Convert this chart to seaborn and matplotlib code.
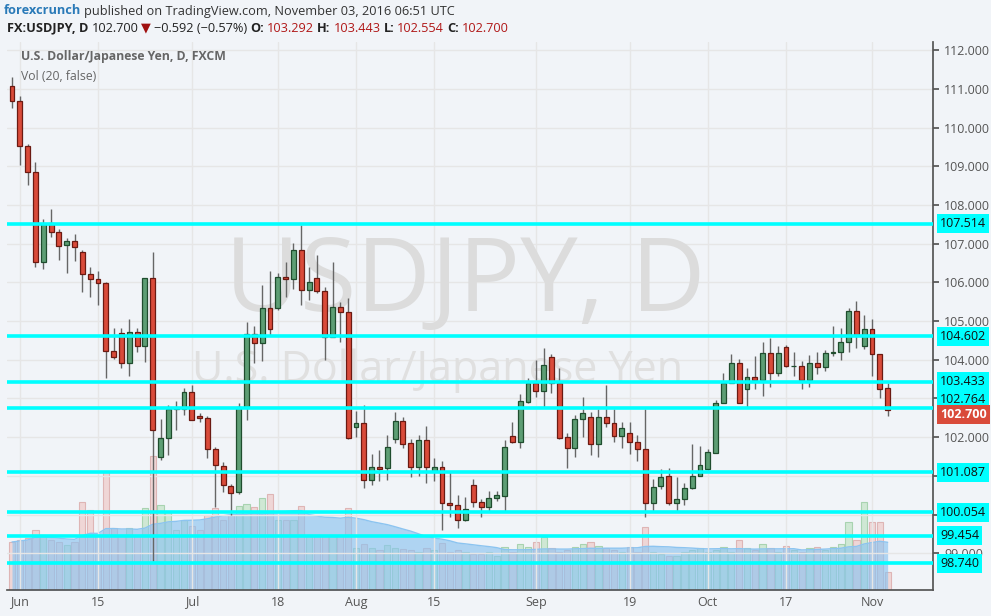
import numpy as np
import pandas as pd
import matplotlib
matplotlib.use("Agg")
import matplotlib.pyplot as plt
import seaborn as sns

opens = [111.07,110.68,109.52,108.85,106.52,107.53,107.30,106.96,107.07,106.78,106.21,106.08,105.98,104.22,104.69,103.91,104.71,104.35,106.10,101.48,
         101.97,102.72,102.72,103.16,102.54,102.50,101.69,101.25,100.74,100.58,102.78,104.66,104.43,105.33,105.33,106.13,106.08,106.83,105.80,106.10,
         105.77,104.58,105.36,105.23,102.26,102.36,100.89,101.23,101.20,101.95,102.41,101.84,101.23,101.92,101.12,101.23,100.29,100.24,99.86,100.76,
         100.32,100.19,100.42,100.48,102.03,101.87,102.90,103.39,103.19,104.07,103.39,102.00,101.72,102.47,102.52,101.82,102.52,102.36,102.03,102.10,
         101.87,101.69,100.29,100.73,100.99,100.29,100.39,100.68,100.99,101.17,101.59,102.88,103.39,103.91,103.24,103.55,103.47,104.17,103.65,104.33,
         103.83,103.83,103.47,103.91,103.81,104.17,104.20,104.46,105.26,104.35,104.79,104.14,103.27]
closes = [110.68,109.52,108.85,106.52,107.52,107.30,106.94,107.07,106.91,106.21,106.08,105.98,104.22,104.07,103.91,104.71,104.35,106.10,102.18,101.97,
          102.72,102.72,103.16,102.44,102.50,101.69,101.28,100.76,100.55,102.78,104.66,104.43,105.33,104.79,106.13,106.08,106.83,105.80,106.00,105.77,
          104.58,105.36,105.23,101.97,102.36,100.89,101.23,101.17,101.74,102.41,101.82,101.23,101.92,101.23,101.23,100.29,100.24,99.86,100.14,100.32,
          100.19,100.42,100.50,101.74,101.87,102.93,103.39,103.19,103.86,103.39,101.97,101.72,102.47,102.62,101.82,102.52,102.36,102.03,102.23,101.87,
          101.69,100.29,100.71,100.97,100.29,100.39,100.68,100.99,101.28,101.61,102.88,103.39,103.91,102.88,103.55,103.47,104.17,103.65,104.17,103.83,
          103.83,103.47,103.91,103.81,104.17,104.20,104.46,105.26,104.64,104.79,104.14,103.24,102.70]
highs = [111.30,110.81,109.57,109.10,107.63,107.90,107.37,107.15,107.25,106.83,106.39,106.30,106.00,104.82,104.82,105.05,104.82,106.10,106.78,102.46,
         102.83,102.93,103.27,103.36,102.62,102.55,101.75,101.35,100.80,102.88,104.97,104.87,105.93,106.29,106.24,106.52,107.01,107.48,106.39,106.70,
         105.88,106.52,105.49,105.59,102.67,102.83,101.56,101.66,102.05,102.65,102.51,101.94,102.05,102.29,101.46,101.38,101.13,100.50,100.45,100.91,
         100.40,100.60,100.60,101.92,102.39,103.11,103.52,104.00,104.30,104.14,103.78,102.10,102.57,103.03,102.65,102.72,103.34,102.72,102.39,102.39,
         102.05,102.72,100.91,101.17,101.21,100.96,100.81,101.83,101.78,101.69,102.96,103.65,104.14,104.01,103.78,104.09,104.45,104.55,104.35,104.37,
         104.21,103.96,104.11,104.21,104.26,104.87,104.82,105.33,105.51,105.15,105.04,104.16,103.40]
lows = [110.50,109.03,108.51,106.40,106.34,107.17,106.57,106.24,106.55,105.75,105.62,105.41,103.52,104.02,103.78,103.58,104.20,103.94,98.80,101.40,
        101.53,102.18,102.58,102.44,102.40,101.46,100.19,100.58,99.98,100.53,102.44,103.91,103.96,104.64,105.28,105.62,105.82,105.41,105.54,105.72,
        103.99,104.58,104.46,101.94,102.00,100.68,100.76,100.86,100.89,101.84,101.72,100.97,101.00,100.81,100.86,99.60,99.93,99.65,99.83,100.19,
        99.93,100.06,100.35,100.06,101.84,101.72,102.88,103.03,102.77,103.13,101.94,101.20,101.48,102.00,101.53,101.48,102.26,101.87,101.72,101.56,
        101.38,99.93,100.06,100.66,100.24,100.06,100.24,100.66,101.00,101.14,101.74,103.16,103.83,102.88,102.77,103.24,103.06,103.29,103.58,103.80,
        103.58,103.24,103.29,103.62,103.72,104.09,103.99,104.20,104.30,104.27,103.58,103.01,102.55]
volume = [48,50,52,60,55,50,48,45,48,88,80,55,119,62,55,62,55,82,134,85,
          78,60,70,64,60,75,82,70,75,84,86,83,92,96,70,70,70,84,55,55,
          55,55,55,82,42,46,42,40,45,42,41,40,38,42,40,47,38,40,38,36,
          36,38,34,43,38,46,43,48,53,42,38,40,43,46,48,44,42,40,38,43,
          38,63,38,36,34,34,38,40,42,38,40,43,38,50,42,40,46,42,38,44,
          40,38,42,43,40,43,46,68,50,88,68,68,18]
levels = [107.514, 104.602, 103.433, 102.764, 101.087, 100.054, 99.454, 98.740]
dates = pd.bdate_range("2016-05-31", periods=len(closes))
tick_labels = ["Jun", "15", "Jul", "18", "Aug", "15", "Sep", "19", "Oct", "17", "Nov"]
tick_dates = ["2016-06-01", "2016-06-15", "2016-07-01", "2016-07-18", "2016-08-01", "2016-08-15",
              "2016-09-01", "2016-09-19", "2016-10-03", "2016-10-17", "2016-11-01"]

df = pd.DataFrame({"date": dates, "open": opens, "high": highs, "low": lows, "close": closes, "vol": volume})
df["i"] = np.arange(len(df))
df["up"] = df["close"] >= df["open"]
df["ma"] = df["vol"].rolling(20, min_periods=1).mean()

sns.set_theme(style="white")
plt.rcParams['font.family'] = ['Open Sans', 'DejaVu Sans']
fig = plt.figure(figsize=(9.91, 6.16), dpi=100, facecolor="#f1f4f8")
ax = fig.add_axes([7/991, 26/616, 926/991, 548/616])
vax = ax.twinx()
ax.set_zorder(vax.get_zorder() + 1)
ax.patch.set_visible(False)
vax.set_facecolor("white")

vcols = np.where(df["up"], "#cfe8d4", "#efd6d6")
vax.bar(df["i"], df["vol"], width=0.8, color=vcols, edgecolor=np.where(df["up"], "#a8d3b0", "#deb5b5"), linewidth=0.8)
vax.fill_between(df["i"], 0, df["ma"], color="#8cc4f0", alpha=0.65, linewidth=0)
sns.lineplot(data=df, x="i", y="ma", ax=vax, color="#8cc4f0", linewidth=1)
vax.set_ylim(0, 548)
vax.set_yticks([])
vax.set_ylabel("")

for d in tick_dates:
    xi = int(np.searchsorted(dates, pd.Timestamp(d)))
    ax.axvline(xi, color="#e6e6e6", lw=1, zorder=0)
for p in range(99, 113):
    ax.axhline(p, color="#e6e6e6", lw=1, zorder=0)

ax.text(0.495, 0.557, "USDJPY, D", transform=ax.transAxes, ha="center", va="center", fontsize=74, color="#dcdcdc", zorder=1)
ax.text(0.465, 0.40, "U.S. Dollar/Japanese Yen", transform=ax.transAxes, ha="center", va="center", fontsize=31, color="#e0e0e0", zorder=1)

for _, r in df.iterrows():
    up = r["up"]
    fc = "#5d9e74" if up else "#d94b3a"
    ec = "#1f4d2e" if up else "#6b1a12"
    ax.vlines(r["i"], r["low"], r["high"], color="#666666", lw=1, zorder=3)
    lo, hi = min(r["open"], r["close"]), max(r["open"], r["close"])
    ax.bar(r["i"], max(hi - lo, 0.02), bottom=lo, width=0.62, color=fc, edgecolor=ec, linewidth=0.9, zorder=4)

for lv in levels:
    ax.axhline(lv, color="#00ffff", lw=2.6, zorder=5)

ax.set_xlim(-0.64, 117.8)
ax.set_ylim(98.05, 112.21)
ax.set_xticks([int(np.searchsorted(dates, pd.Timestamp(d))) for d in tick_dates])
ax.set_xticklabels(tick_labels, color="#555555", fontsize=9)
ax.yaxis.tick_right()
ax.set_yticks(range(99, 113))
ax.set_yticklabels([f"{p}.000" for p in range(99, 113)], color="#555555", fontsize=9)
ax.tick_params(axis="y", length=4, color="#555555", pad=4)
ax.tick_params(axis="x", length=0, pad=4)
for s in ["top", "left"]:
    ax.spines[s].set_visible(False)
ax.spines["right"].set_color("#555555")
ax.spines["bottom"].set_color("#555555")
for s in vax.spines.values():
    s.set_visible(False)
ax.set_xlabel(""); ax.set_ylabel("")

offsets = {102.764: 6}
for lv in levels:
    ax.annotate(f"{lv:.3f}", xy=(1.0, lv), xycoords=("axes fraction", "data"), xytext=(5, offsets.get(lv, 0)),
                textcoords="offset points", va="center", ha="left", fontsize=9, color="#111111",
                bbox=dict(boxstyle="square,pad=0.25", fc="#00ffff", ec="none"), zorder=10, annotation_clip=False)
ax.annotate("102.700", xy=(1.0, 102.7), xycoords=("axes fraction", "data"), xytext=(5, -3), textcoords="offset points",
            va="center", ha="left", fontsize=9, color="white", fontweight="bold",
            bbox=dict(boxstyle="square,pad=0.25", fc="#d94b3a", ec="none"), zorder=11, annotation_clip=False)

ax.text(0.015, 0.985, "U.S. Dollar/Japanese Yen, D, FXCM", transform=ax.transAxes, fontsize=8.8, color="#666666",
        fontweight="bold", va="top")
ax.text(0.015, 0.948, "Vol (20, false)", transform=ax.transAxes, fontsize=8.8, color="#666666", va="top")

fig.canvas.draw()
renderer = fig.canvas.get_renderer()
def chain(parts, x0, y):
    x = x0
    for t, c, w in parts:
        txt = fig.text(x / 991, 1 - y / 616, t, color=c, fontsize=9.2, fontweight=w, va="center")
        bb = txt.get_window_extent(renderer=renderer)
        x = bb.x1 + 3
chain([("forexcrunch", "#2a7ab8", "bold"),
       ("published on TradingView.com, November 03, 2016 06:51 UTC", "#333333", "normal")], 4, 11)
chain([("FX:USDJPY, D", "#222222", "bold"), ("102.700", "#222222", "normal"), ("▼", "#a01010", "normal"),
       ("−0.592 (−0.57%)", "#222222", "normal"), ("O:", "#222222", "bold"), ("103.292", "#b01818", "normal"),
       ("H:", "#222222", "bold"), ("103.443", "#b01818", "normal"), ("L:", "#222222", "bold"),
       ("102.554", "#b01818", "normal"), ("C:", "#222222", "bold"), ("102.700", "#b01818", "normal")], 7, 28)

fig.savefig("out.png", dpi=100, facecolor=fig.get_facecolor())
